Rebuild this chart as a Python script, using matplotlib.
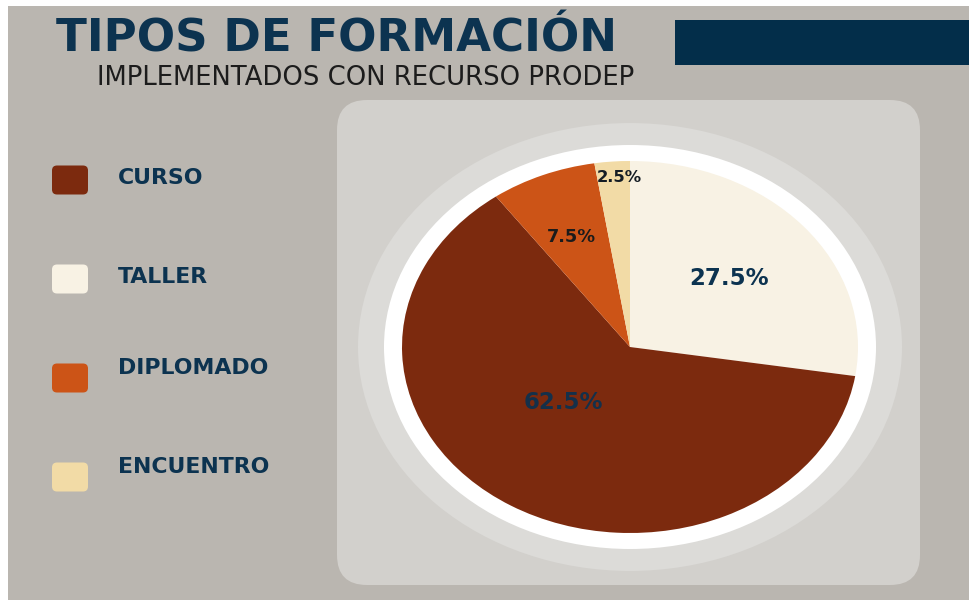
import numpy as np
import matplotlib.pyplot as plt
from matplotlib.patches import Rectangle, FancyBboxPatch, Ellipse

# datos
categorias = ['CURSO', 'TALLER', 'DIPLOMADO', 'ENCUENTRO']
porcentajes = [62.5, 27.5, 7.5, 2.5]
colores = ['#7c2a0e', '#f8f2e4', '#cc5417', '#f2dba6']

# orden de las rebanadas (en sentido horario desde arriba)
orden_pie = ['TALLER', 'CURSO', 'DIPLOMADO', 'ENCUENTRO']

titulo = 'TIPOS DE FORMACIÓN'
subtitulo = 'IMPLEMENTADOS CON RECURSO PRODEP'

azul = '#0c3350'
gris_fondo = '#bab6b0'
gris_panel = '#d2d0cc'
gris_aro = '#dcdbd8'

fig = plt.figure(figsize=(9.69, 6), dpi=100, facecolor='white')

# fondo en coordenadas de pixel
bg = fig.add_axes([0, 0, 1, 1])
bg.set_xlim(0, 969)
bg.set_ylim(600, 0)
bg.axis('off')

bg.add_patch(Rectangle((8, 6), 961, 594, color=gris_fondo, lw=0))
bg.add_patch(FancyBboxPatch((337, 100), 583, 485, boxstyle='round,pad=0,rounding_size=30',
                            fc=gris_panel, ec='none'))
bg.add_patch(Rectangle((675, 20), 294, 45, color='#032e4a', lw=0))

bg.text(56, 52, titulo, fontsize=32.5, fontweight='bold', color=azul,
        family='DejaVu Sans', va='baseline', ha='left')
bg.text(97, 85, subtitulo, fontsize=18.6, color='#1c1c1c',
        family='DejaVu Sans', va='baseline', ha='left')

# leyenda
ley_y = [180, 279, 378, 477]
txt_y = [178, 277, 368, 467]
for cat, col, yc, yt in zip(categorias, colores, ley_y, txt_y):
    bg.add_patch(FancyBboxPatch((52, yc - 14.5), 36, 29, boxstyle='round,pad=0,rounding_size=5',
                                fc=col, ec='none'))
    bg.text(118, yt, cat, fontsize=15.8, fontweight='bold', color=azul,
            family='DejaVu Sans', va='center', ha='left')

# pastel (ejes sin aspecto igual -> elipse como en la imagen)
ax = fig.add_axes([402 / 969, (600 - 533) / 600, 456 / 969, 372 / 600])
ax.add_patch(Ellipse((0, 0), 2 * 1.193, 2 * 1.204, fc=gris_aro, ec='none', zorder=0, clip_on=False))
ax.add_patch(Ellipse((0, 0), 2 * 1.079, 2 * 1.086, fc='white', ec='none', zorder=0, clip_on=False))

vals = [porcentajes[categorias.index(c)] for c in orden_pie]
cols = [colores[categorias.index(c)] for c in orden_pie]
wedges, _ = ax.pie(vals, colors=cols, startangle=90, counterclock=False,
                   wedgeprops=dict(linewidth=0))
ax.set_aspect('auto')
ax.set_xlim(-1, 1)
ax.set_ylim(-1, 1)
ax.axis('off')

# etiquetas de porcentaje
dist = {'TALLER': 0.57, 'CURSO': 0.42, 'DIPLOMADO': 0.645, 'ENCUENTRO': 0.91}
giro = {'TALLER': 0, 'CURSO': -13, 'DIPLOMADO': 1, 'ENCUENTRO': -1.5}
tam = {'TALLER': 16.5, 'CURSO': 16.5, 'DIPLOMADO': 12.8, 'ENCUENTRO': 11.8}
col_txt = {'TALLER': azul, 'CURSO': '#14304a', 'DIPLOMADO': '#1b1b1b', 'ENCUENTRO': '#141c24'}
for w, cat, v in zip(wedges, orden_pie, vals):
    ang = np.deg2rad((w.theta1 + w.theta2) / 2 + giro[cat])
    r = dist[cat]
    ax.text(r * np.cos(ang), r * np.sin(ang), f'{v}%', fontsize=tam[cat], fontweight='bold',
            color=col_txt[cat], family='DejaVu Sans', ha='center', va='center')

fig.savefig('out.png', dpi=100, facecolor='white')
